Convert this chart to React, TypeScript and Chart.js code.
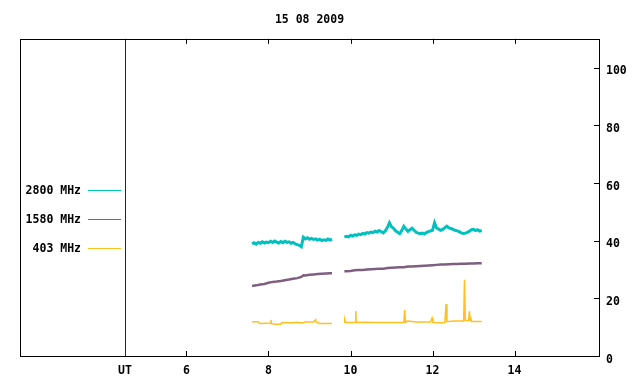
import React, { useEffect, useRef } from "react";
import { Chart, registerables } from "chart.js";

Chart.register(...registerables);

const TITLE = "15 08 2009";
const X_TICKS = [4.5, 6, 8, 10, 12, 14];
const Y_TICKS = [0, 20, 40, 60, 80, 100];
const GAP_T = 9.7;

// 2800 MHz
const T28_1 = [7.6, 7.65, 7.7, 7.75, 7.8, 7.85, 7.9, 7.95, 8.0, 8.05, 8.1, 8.15, 8.2, 8.25, 8.3, 8.35, 8.4, 8.45, 8.5, 8.55, 8.6, 8.65, 8.7, 8.75, 8.8, 8.85, 8.9, 8.95, 9.0, 9.05, 9.1, 9.15, 9.2, 9.25, 9.3, 9.35, 9.4, 9.45, 9.5, 9.55];
const V28_1 = [38.9, 39.3, 38.8, 39.4, 39.1, 39.6, 39.2, 39.5, 39.3, 39.8, 39.4, 39.9, 39.5, 39.2, 39.7, 39.3, 39.8, 39.4, 39.6, 39.1, 39.4, 38.9, 38.6, 38.4, 37.9, 41.2, 40.6, 41.0, 40.5, 40.8, 40.4, 40.6, 40.2, 40.5, 40.0, 40.3, 40.1, 40.6, 40.2, 40.5];
const T28_2 = [9.85, 9.9, 9.95, 10.0, 10.05, 10.1, 10.15, 10.2, 10.25, 10.3, 10.35, 10.4, 10.45, 10.5, 10.55, 10.6, 10.65, 10.7, 10.75, 10.8, 10.85, 10.9, 10.95, 11.0, 11.05, 11.1, 11.15, 11.2, 11.25, 11.3, 11.35, 11.4, 11.45, 11.5, 11.55, 11.6, 11.65, 11.7, 11.75, 11.8, 11.85, 11.9, 11.95, 12.0, 12.05, 12.1, 12.15, 12.2, 12.25, 12.3, 12.35, 12.4, 12.45, 12.5, 12.55, 12.6, 12.65, 12.7, 12.75, 12.8, 12.85, 12.9, 12.95, 13.0, 13.05, 13.1, 13.15, 13.2];
const V28_2 = [41.2, 41.5, 41.3, 41.8, 41.6, 42.0, 41.8, 42.3, 42.1, 42.5, 42.3, 42.8, 42.6, 43.0, 42.8, 43.3, 43.0, 43.5, 43.1, 42.7, 43.4, 44.6, 46.2, 44.8, 44.3, 43.4, 42.9, 42.4, 43.5, 45.0, 44.1, 43.2, 43.8, 44.3, 43.6, 42.9, 42.6, 42.4, 42.6, 42.3, 42.8, 43.1, 43.4, 43.6, 46.2, 44.4, 44.0, 43.6, 43.9, 44.5, 45.0, 44.4, 44.2, 43.9, 43.6, 43.4, 43.1, 42.7, 42.5, 42.6, 42.9, 43.3, 43.8, 43.9, 43.5, 43.8, 43.3, 43.5];

// 1580 MHz
const T15_1 = [7.6, 7.7, 7.8, 7.9, 8.0, 8.1, 8.2, 8.3, 8.4, 8.5, 8.6, 8.7, 8.8, 8.85, 8.9, 9.0, 9.1, 9.2, 9.3, 9.4, 9.5, 9.55];
const V15_1 = [24.3, 24.5, 24.8, 25.0, 25.4, 25.7, 25.8, 26.0, 26.3, 26.5, 26.8, 27.0, 27.4, 28.0, 27.9, 28.2, 28.3, 28.4, 28.5, 28.6, 28.7, 28.7];
const T15_2 = [9.85, 9.9, 10.0, 10.1, 10.2, 10.3, 10.4, 10.5, 10.6, 10.7, 10.8, 10.9, 11.0, 11.1, 11.2, 11.3, 11.4, 11.5, 11.6, 11.7, 11.8, 11.9, 12.0, 12.1, 12.2, 12.3, 12.4, 12.5, 12.6, 12.7, 12.8, 12.9, 13.0, 13.1, 13.2];
const V15_2 = [29.4, 29.4, 29.5, 29.7, 29.8, 29.8, 30.0, 30.1, 30.2, 30.3, 30.3, 30.5, 30.6, 30.7, 30.8, 30.8, 31.0, 31.0, 31.1, 31.2, 31.3, 31.4, 31.5, 31.6, 31.7, 31.7, 31.8, 31.9, 31.9, 32.0, 32.0, 32.1, 32.1, 32.2, 32.2];

// 403 MHz
const T40_1 = [7.6, 7.75, 7.78, 7.95, 8.05, 8.06, 8.07, 8.15, 8.3, 8.32, 8.6, 8.7, 8.75, 8.85, 8.9, 9.1, 9.15, 9.16, 9.25, 9.55];
const V40_1 = [11.9, 11.9, 11.3, 11.4, 11.3, 12.5, 11.3, 11.0, 11.0, 11.5, 11.5, 11.7, 11.5, 11.5, 11.8, 11.8, 12.6, 11.8, 11.3, 11.3];
const T40_2 = [9.85, 9.86, 9.88, 10.12, 10.13, 10.14, 10.4, 10.5, 11.3, 11.32, 11.34, 11.4, 11.6, 11.95, 11.99, 12.01, 12.2, 12.3, 12.33, 12.35, 12.5, 12.76, 12.78, 12.8, 12.88, 12.9, 12.92, 12.93, 12.95, 13.2];
const V40_2 = [11.6, 12.6, 11.6, 11.6, 15.6, 11.6, 11.7, 11.6, 11.6, 16.0, 11.7, 12.1, 11.8, 11.8, 13.2, 11.6, 11.5, 11.6, 18.0, 11.9, 12.1, 12.1, 26.4, 12.3, 12.3, 15.6, 12.4, 13.6, 12.0, 12.0];

const SERIES = ["2800 MHz", "1580 MHz", "403 MHz"];
const COLORS = ["#00c0c0", "#7e5f80", "#ffc020"];
const WIDTHS = [3, 2.5, 1.5];

const FONT = { family: '"DejaVu Sans Mono", "Liberation Mono", monospace', size: 11.5, weight: "bold" as const, lineHeight: 1.2 };
const FONT_CSS = 'bold 11.5px "DejaVu Sans Mono", "Liberation Mono", monospace';

function pts(t1: number[], v1: number[], t2: number[], v2: number[]) {
  const a = t1.map((t, i) => ({ x: t, y: v1[i] as number | null }));
  const b = t2.map((t, i) => ({ x: t, y: v2[i] as number | null }));
  return [...a, { x: GAP_T, y: null }, ...b];
}

const framePlugin = {
  id: "gnuFrame",
  afterDraw(chart: any) {
    const { ctx, chartArea: ca, scales } = chart;
    const xs = scales.x;
    const ys = scales.y;
    ctx.save();
    const ux = Math.round(xs.getPixelForValue(4.5)) + 0.5;
    ctx.strokeStyle = "#800000";
    ctx.lineWidth = 1;
    ctx.beginPath();
    ctx.moveTo(ux, ca.top);
    ctx.lineTo(ux, ca.bottom);
    ctx.stroke();
    ctx.strokeStyle = "#000";
    ctx.strokeRect(Math.round(ca.left) + 0.5, Math.round(ca.top) + 0.5, Math.round(ca.right - ca.left), Math.round(ca.bottom - ca.top));
    ctx.beginPath();
    for (const v of X_TICKS) {
      if (v === 4.5) continue;
      const px = Math.round(xs.getPixelForValue(v)) + 0.5;
      ctx.moveTo(px, ca.bottom);
      ctx.lineTo(px, ca.bottom - 5);
      ctx.moveTo(px, ca.top);
      ctx.lineTo(px, ca.top + 5);
    }
    for (const v of Y_TICKS) {
      const py = Math.round(ys.getPixelForValue(v)) + 0.5;
      ctx.moveTo(ca.right, py);
      ctx.lineTo(ca.right - 5, py);
    }
    ctx.stroke();
    ctx.font = FONT_CSS;
    ctx.textBaseline = "middle";
    ctx.textAlign = "right";
    chart.data.datasets.forEach((ds: any, i: number) => {
      const y = 190 + i * 29;
      ctx.fillStyle = "#000";
      ctx.fillText(ds.label, 81, y + 1);
      ctx.strokeStyle = ds.borderColor;
      ctx.lineWidth = 1;
      ctx.beginPath();
      ctx.moveTo(88, y + 0.5);
      ctx.lineTo(121, y + 0.5);
      ctx.stroke();
    });
    ctx.restore();
  },
};

export default function App() {
  const ref = useRef<HTMLCanvasElement>(null);
  useEffect(() => {
    if (!ref.current) return;
    const data = [
      pts(T28_1, V28_1, T28_2, V28_2),
      pts(T15_1, V15_1, T15_2, V15_2),
      pts(T40_1, V40_1, T40_2, V40_2),
    ];
    const chart = new Chart(ref.current, {
      type: "line",
      data: {
        datasets: SERIES.map((label, i) => ({
          label,
          data: data[i],
          borderColor: COLORS[i],
          backgroundColor: COLORS[i],
          borderWidth: WIDTHS[i],
          pointRadius: 0,
          tension: 0,
          spanGaps: false,
        })),
      },
      options: {
        responsive: false,
        animation: false,
        layout: { padding: { left: 20, right: 0, bottom: 0, top: 0 } },
        plugins: {
          legend: { display: false },
          tooltip: { enabled: false },
          title: {
            display: true,
            text: TITLE,
            color: "#000",
            font: FONT,
            fullSize: false,
            padding: { top: 13, bottom: 12 },
          },
        },
        scales: {
          x: {
            type: "linear",
            position: "bottom",
            min: 1.94,
            max: 16.06,
            afterBuildTicks: (axis: any) => {
              axis.ticks = X_TICKS.map((v) => ({ value: v }));
            },
            afterFit: (axis: any) => {
              axis.height = 28;
            },
            ticks: {
              autoSkip: false,
              maxRotation: 0,
              color: "#000",
              font: FONT,
              padding: 8,
              callback: (v: any) => (v === 4.5 ? "UT" : String(v)),
            },
            grid: { display: false, drawTicks: false },
            border: { display: false },
          },
          y: {
            type: "linear",
            position: "right",
            min: 0,
            max: 110,
            afterBuildTicks: (axis: any) => {
              axis.ticks = Y_TICKS.map((v) => ({ value: v }));
            },
            afterFit: (axis: any) => {
              axis.width = 41;
            },
            ticks: { color: "#000", font: FONT, padding: 7, labelOffset: -2, align: "start" as any },
            grid: { display: false, drawTicks: false },
            border: { display: false },
          },
        },
      },
      plugins: [framePlugin],
    });
    return () => chart.destroy();
  }, []);
  return (
    <div style={{ position: "fixed", left: 0, top: 0, width: 640, height: 384, background: "#fff" }}>
      <canvas ref={ref} width={640} height={384} />
    </div>
  );
}
